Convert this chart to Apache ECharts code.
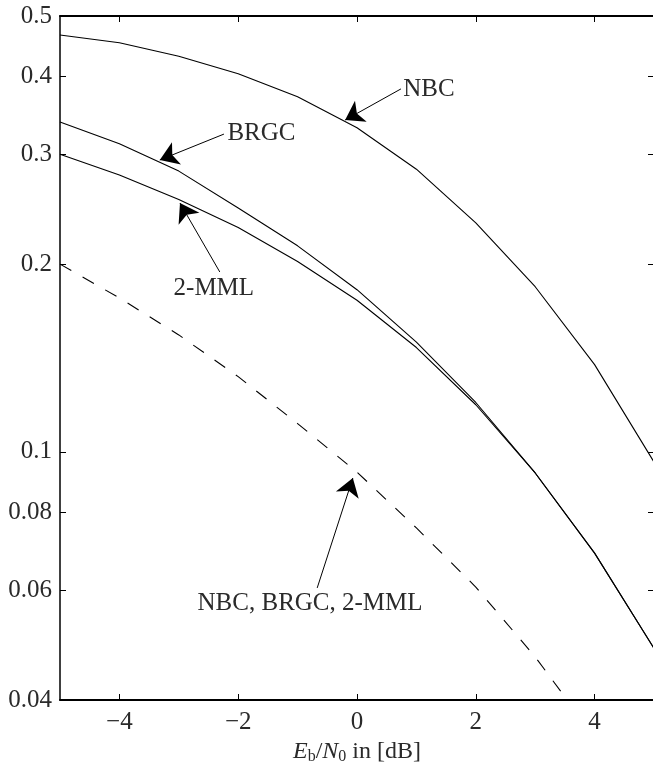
<!DOCTYPE html>
<html>
<head>
<meta charset="utf-8">
<script src="https://cdn.jsdelivr.net/npm/echarts@6/dist/echarts.min.js"></script>
<style>
  html, body { margin: 0; padding: 0; background: #fff; }
  #chart { width: 653px; height: 764px; }
</style>
</head>
<body>
<div id="chart"></div>
<script>
// Eb/N0 in dB
const snr = [-5, -4, -3, -2, -1, 0, 1, 2, 3, 4, 5];
// solid curves
const nbc = [0.466, 0.453, 0.431, 0.404, 0.371, 0.331, 0.284, 0.233, 0.184, 0.138, 0.0963];
const brgc = [0.338, 0.312, 0.282, 0.246, 0.214, 0.182, 0.150, 0.120, 0.0925, 0.0688, 0.0484];
const mml = [0.300, 0.278, 0.254, 0.229, 0.202, 0.175, 0.147, 0.119, 0.0925, 0.0688, 0.0484];
// dashed curve, same for all three labellings
const allLabellings = [0.200, 0.1765, 0.154, 0.132, 0.111, 0.0928, 0.0755, 0.0607, 0.0469, 0.0349, 0.0255];

const xTicks = [-4, -2, 0, 2, 4];
const yTicks = [0.04, 0.06, 0.08, 0.1, 0.2, 0.3, 0.4, 0.5];

const font = "'Liberation Serif', serif";
const ink = '#000';
const textInk = '#2a2a2a';

const pairs = arr => snr.map((x, i) => [x, arr[i]]);

// arrow from label to curve, in data coords
function arrow(from, to) {
  return [{ coord: from }, { coord: to }];
}
function note(text, at, pos) {
  return {
    coord: at,
    symbol: 'circle',
    symbolSize: 1,
    itemStyle: { color: 'rgba(0,0,0,0)' },
    label: {
      show: true, formatter: text, position: pos, distance: 0,
      fontFamily: font, fontSize: 25, color: textInk
    }
  };
}
const markLineBase = {
  silent: true,
  symbol: ['none', 'arrow'],
  symbolSize: 18,
  label: { show: false },
  lineStyle: { color: ink, width: 1, type: 'solid' },
  emphasis: { disabled: true },
  animation: false
};
const markPointBase = { silent: true, animation: false };

function curve(name, arr, dashed, notes, arrows) {
  return {
    name: name,
    type: 'line',
    data: pairs(arr),
    symbol: 'none',
    clip: true,
    lineStyle: { color: ink, width: 1.1, type: dashed ? [13, 13] : 'solid' },
    emphasis: { disabled: true },
    markLine: Object.assign({ data: arrows }, markLineBase),
    markPoint: Object.assign({ data: notes }, markPointBase)
  };
}

const chart = echarts.init(document.getElementById('chart'));

const tickStyle = { show: true, inside: true, length: 6, lineStyle: { color: ink, width: 1 } };

chart.setOption({
  animation: false,
  grid: { left: 60, right: -1, top: 16, bottom: 64, containLabel: false, outerBoundsMode: 'none' },
  xAxis: [
    {
      type: 'value', min: -5, max: 5, position: 'bottom',
      axisLine: { show: true, onZero: false, lineStyle: { color: ink, width: 2 } },
      axisTick: Object.assign({ customValues: xTicks }, tickStyle),
      axisLabel: {
        customValues: xTicks, margin: 10,
        fontFamily: font, fontSize: 25, color: textInk,
        formatter: v => (v < 0 ? '\u2212' + (-v) : String(v))
      },
      splitLine: { show: false },
      name: '{i|E}{s|b}{n|/}{i|N}{s|0}{n| in [dB]}',
      nameLocation: 'middle', nameGap: 34,
      nameTextStyle: {
        rich: {
          i: { fontFamily: font, fontStyle: 'italic', fontSize: 24, color: textInk, lineHeight: 26 },
          s: { fontFamily: font, fontSize: 16, color: textInk, verticalAlign: 'bottom', lineHeight: 26 },
          n: { fontFamily: font, fontSize: 24, color: textInk, lineHeight: 26 }
        }
      }
    },
    {
      type: 'value', min: -5, max: 5, position: 'top',
      axisLine: { show: true, onZero: false, lineStyle: { color: ink, width: 2 } },
      axisTick: Object.assign({ customValues: xTicks }, tickStyle),
      axisLabel: { show: false },
      splitLine: { show: false }
    }
  ],
  yAxis: [
    {
      type: 'log', logBase: 10, min: 0.04, max: 0.5, position: 'left',
      axisLine: { show: true, onZero: false, lineStyle: { color: ink, width: 1.5 } },
      axisTick: Object.assign({ customValues: yTicks }, tickStyle),
      axisLabel: {
        customValues: yTicks, margin: 8,
        fontFamily: font, fontSize: 25, color: textInk,
        formatter: v => String(parseFloat(Number(v).toPrecision(3)))
      },
      splitLine: { show: false }
    },
    {
      type: 'log', logBase: 10, min: 0.04, max: 0.5, position: 'right',
      axisLine: { show: true, onZero: false, lineStyle: { color: ink, width: 1.5 } },
      axisTick: Object.assign({ customValues: yTicks }, tickStyle),
      axisLabel: { show: false },
      splitLine: { show: false }
    }
  ],
  series: [
    curve('NBC', nbc, false,
      [note('NBC', [0.77, 0.381], 'right')],
      [arrow([0.74, 0.382], [-0.2, 0.3405])]),
    curve('BRGC', brgc, false,
      [note('BRGC', [-2.19, 0.3235], 'right')],
      [arrow([-2.24, 0.3233], [-3.32, 0.2938])]),
    curve('2-MML', mml, false,
      [note('2-MML', [-2.41, 0.1831], 'inside')],
      [arrow([-2.31, 0.1943], [-2.98, 0.2506])]),
    curve('NBC, BRGC, 2-MML', allLabellings, true,
      [note('NBC, BRGC, 2-MML', [-0.79, 0.0572], 'inside')],
      [arrow([-0.67, 0.0605], [-0.07, 0.0908])])
  ]
});
</script>
</body>
</html>
